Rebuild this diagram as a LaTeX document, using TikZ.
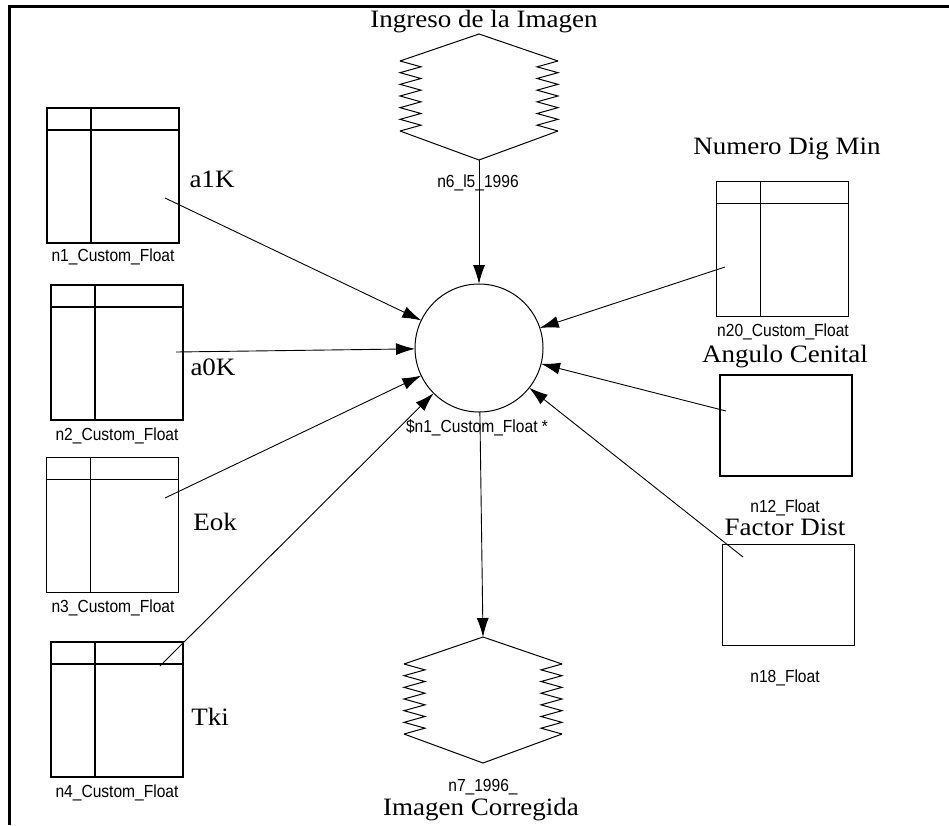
\documentclass[tikz,border=0pt]{standalone}
\usepackage{fontspec}
\setmainfont{Liberation Serif}
\newfontfamily\lblfont{Liberation Sans}[FakeStretch=0.89]
\newfontfamily\ttlfont{Liberation Serif}[FakeStretch=1.08]
\usetikzlibrary{arrows.meta,calc}
\newcommand\storeshape[2]{%
 \begin{scope}[shift={#2}]
  \draw[zig] (-79,-35) -- (0,-62) -- (79,-35);
  \draw[zig] (-79,35) -- (0,64) -- (79,35);
  \draw[zig] (-79,-35) \foreach \k in {0,...,5} { -- (-58,{-35+\k*11.667+5.833}) -- (-79,{-35+(\k+1)*11.667})};
  \draw[zig] (79,-35) \foreach \k in {0,...,5} { -- (58,{-35+\k*11.667+5.833}) -- (79,{-35+(\k+1)*11.667})};
  \coordinate (#1top) at (0,-62);
  \coordinate (#1bot) at (0,64);
 \end{scope}}
\begin{document}
\begin{tikzpicture}[x=1pt,y=-1pt,
 tbox/.style={draw, line width=1.2pt, minimum width=132pt, minimum height=135pt, inner sep=0pt, outer sep=0pt},
 fbox/.style={draw, line width=1.2pt, minimum width=132pt, minimum height=101pt, inner sep=0pt, outer sep=0pt},
 proc/.style={draw, circle, line width=1pt, minimum size=128pt, inner sep=0pt, outer sep=0pt},
 lbl/.style={font=\lblfont\fontsize{17.5}{17.5}\selectfont, inner sep=0pt},
 ttl/.style={font=\ttlfont\fontsize{25}{25}\selectfont, inner sep=0pt},
 conn/.style={line width=0.9pt, -{Latex[length=19pt,width=12pt]}},
 divl/.style={line width=1.2pt},
 zig/.style={line width=1pt},
 frame/.style={line width=3pt}
]
\useasboundingbox (0,0) rectangle (949,825);
% frame
\coordinate (fa) at (8,6.5);
\coordinate (fb) at (949,6.5);
\coordinate (fc) at (9.7,5);
\coordinate (fd) at (9.7,825);
\draw[frame] (fa) -- (fb);
\draw[frame] (fc) -- (fd);

% table boxes
\node[tbox] (n1) at (113,175.5) {};
\node[tbox] (n2) at (117,352.5) {};
\node[tbox] (n3) at (112.5,525) {};
\node[tbox] (n4) at (117,709.5) {};
\node[tbox] (n20) at (782.5,249) {};
\foreach \b in {n1,n2,n3,n4,n20}{
  \draw[divl] ([yshift=-22pt]\b.north west) -- ([yshift=-22pt]\b.north east);
  \draw[divl] ([xshift=44pt]\b.north west) -- ([xshift=44pt]\b.south west);
}
% plain boxes
\node[fbox] (n12) at (786,425.5) {};
\node[fbox] (n18) at (788.5,595) {};

% circle
\node[proc] (c) at (479,348) {};

% store shapes
\storeshape{n6}{(479,96)}
\storeshape{n7}{(483,699)}

% labels
\node[lbl] (l1) at (113,257) {n1\_Custom\_Float};
\node[lbl] (l2) at (117,436) {n2\_Custom\_Float};
\node[lbl] (l3) at (113,608) {n3\_Custom\_Float};
\node[lbl] (l4) at (117,793) {n4\_Custom\_Float};
\node[lbl] (l6) at (478,183) {n6\_l5\_1996};
\node[lbl] (lc) at (477,428) {\$n1\_Custom\_Float *};
\node[lbl] (l20) at (783,332) {n20\_Custom\_Float};
\node[lbl] (l12) at (785,508) {n12\_Float};
\node[lbl] (l18) at (785,678) {n18\_Float};
\node[lbl] (l7) at (483,787) {n7\_1996\_};

\node[ttl] (t6) at (484,22) {Ingreso de la Imagen};
\node[ttl] (t20) at (787,149) {Numero Dig Min};
\node[ttl] (t12) at (785,357) {Angulo Cenital};
\node[ttl] (t18) at (785,527) {Factor Dist};
\node[ttl] (t7) at (481,810) {Imagen Corregida};
\node[ttl] (ta1) at (212,179) {a1K};
\node[ttl] (ta0) at (213,367) {a0K};
\node[ttl] (te) at (215,522) {Eok};
\node[ttl] (tt) at (210,717) {Tki};

% connector start points
\coordinate (s1) at (165,198);
\coordinate (s2) at (176,352);
\coordinate (s3) at (165,498);
\coordinate (s4) at (160,666);
\coordinate (s20) at (725,267);
\coordinate (s12) at (726,411);
\coordinate (s18) at (743,557);

\draw[conn] (s1) -- (c);
\draw[conn] (s2) -- (c);
\draw[conn] (s3) -- (c);
\draw[conn] (s4) -- (c);
\draw[conn] (s20) -- (c);
\draw[conn] (s12) -- (c);
\draw[conn] (s18) -- (c);
\draw[conn] (n6bot) -- (c);
\draw[conn] (c) -- (n7top);
\end{tikzpicture}
\end{document}
